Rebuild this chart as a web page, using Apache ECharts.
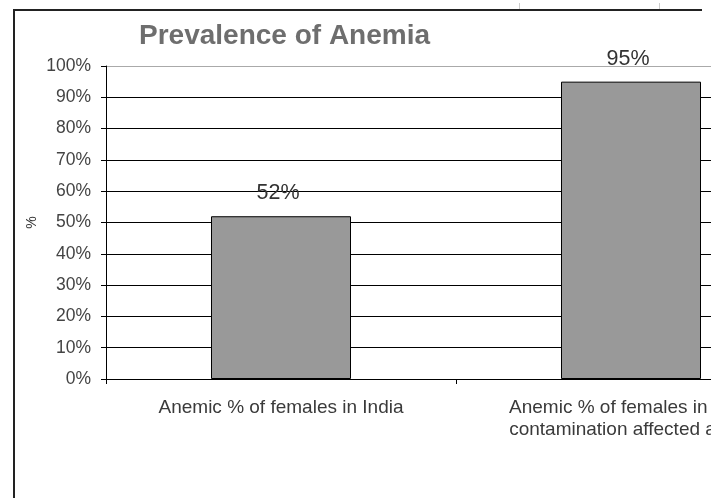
<!DOCTYPE html>
<html>
<head>
<meta charset="utf-8">
<style>html,body{margin:0;padding:0;background:#fff;overflow:hidden;width:711px;height:498px;}#chart{width:820px;height:498px;}</style>
<script src="https://cdn.jsdelivr.net/npm/echarts@6/dist/echarts.min.js"></script>
</head>
<body>
<div id="chart"></div>
<script>
var categories = ['Anemic % of females in India', 'Anemic % of females in W.B.\ncontamination affected areas'];
var values = [52, 95];
var yTicks = [0, 10, 20, 30, 40, 50, 60, 70, 80, 90, 100];

var chart = echarts.init(document.getElementById('chart'));
var font = '"Liberation Sans", Arial, sans-serif';
chart.setOption({
  animation: false,
  backgroundColor: '#ffffff',
  title: {
    text: 'Prevalence of Anemia',
    left: 134, top: 17,
    textStyle: { fontFamily: font, fontSize: 28, fontWeight: 'bold', color: '#6e6e6e' }
  },
  graphic: [
    { type: 'line', shape: { x1: 13, y1: 10, x2: 702, y2: 10 }, style: { stroke: '#222', lineWidth: 2 }, z: 100 },
    { type: 'line', shape: { x1: 14, y1: 10, x2: 14, y2: 498 }, style: { stroke: '#222', lineWidth: 2 }, z: 100 },
    { type: 'line', shape: { x1: 519.5, y1: 3, x2: 519.5, y2: 9 }, style: { stroke: '#ccc', lineWidth: 1 } },
    { type: 'line', shape: { x1: 659.5, y1: 3, x2: 659.5, y2: 9 }, style: { stroke: '#ccc', lineWidth: 1 } }
  ],
  grid: { left: 106, right: 14, top: 66, bottom: 119, containLabel: false },
  xAxis: {
    type: 'category',
    data: categories,
    axisLine: { lineStyle: { color: '#000', width: 1 } },
    axisTick: { show: true, length: 5, inside: false, lineStyle: { color: '#000' } },
    axisLabel: { fontFamily: font, fontSize: 19, color: '#3a3a3a', margin: 18, lineHeight: 22, interval: 0 }
  },
  yAxis: {
    type: 'value',
    min: yTicks[0], max: yTicks[yTicks.length - 1], interval: 10,
    name: '%',
    nameLocation: 'middle',
    nameGap: 67,
    nameRotate: 90,
    nameMoveOverlap: false,
    nameTextStyle: { fontFamily: font, fontSize: 14, color: '#333' },
    axisLine: { show: true, lineStyle: { color: '#000', width: 1 } },
    axisTick: { show: true, length: 5, lineStyle: { color: '#000' } },
    axisLabel: { fontFamily: font, fontSize: 17.5, color: '#444', margin: 15, formatter: '{value}%' },
    splitLine: { show: true, lineStyle: { color: ['#000', '#000', '#000', '#000', '#000', '#000', '#000', '#000', '#000', '#000', '#aaa'], width: 1 } }
  },
  series: [{
    type: 'bar',
    data: values,
    barWidth: '40%',
    itemStyle: { color: '#999999', borderColor: '#000', borderWidth: 1 },
    label: { show: true, position: 'top', distance: 12, offset: [-3, 0], fontFamily: font, fontSize: 21.5, color: '#333', formatter: '{c}%' }
  }]
});
</script>
</body>
</html>
